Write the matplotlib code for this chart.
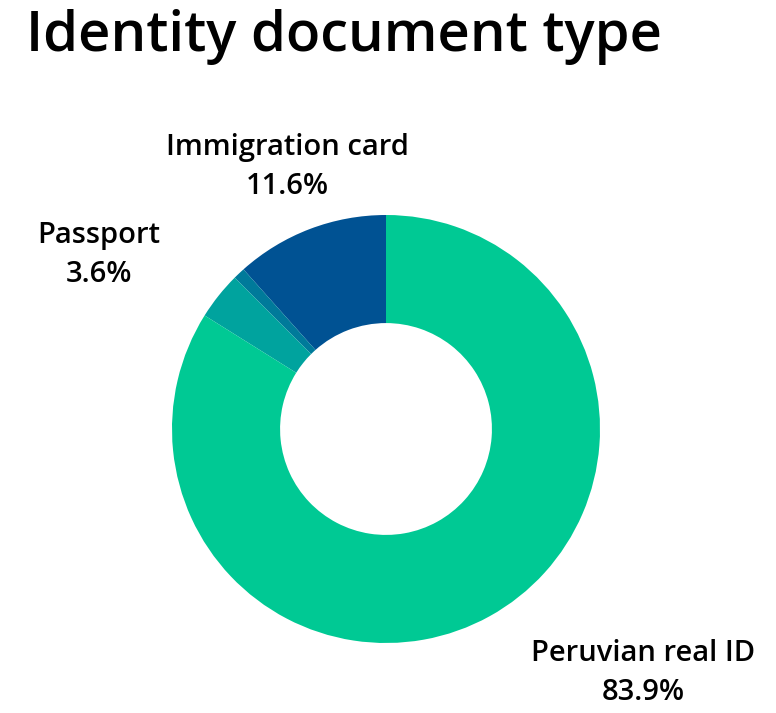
import matplotlib
matplotlib.use("Agg")
import matplotlib.pyplot as plt

# Shares of identity document types (percent), listed counter-clockwise from 12 o'clock
doc_types = ["Immigration card", "Other", "Passport", "Peruvian real ID"]
shares = [11.6, 0.9, 3.6, 83.9]
colors = ["#005293", "#007A9A", "#00A39E", "#00C994"]
show_label = [True, False, True, True]

W, H = 776, 713
fig = plt.figure(figsize=(W / 100, H / 100), dpi=100)
fig.patch.set_facecolor("white")

cx, cy, r = 386, 429, 214
ax = fig.add_axes([(cx - r) / W, (H - cy - r) / H, 2 * r / W, 2 * r / H])
ax.pie(shares, colors=colors, startangle=90, counterclock=True,
       radius=1.0, wedgeprops=dict(width=0.505, linewidth=0))
ax.set_xlim(-1, 1)
ax.set_ylim(-1, 1)
ax.axis("off")

font = "Open Sans"
fig.text(26 / W, 1 - 37 / H, "Identity document type", fontsize=40.5,
         fontweight="semibold", family=font, ha="left", va="center")

# label anchor points in figure pixels (centre of the two-line label)
label_pos = {
    "Immigration card": (287, 167),
    "Passport": (99, 255),
    "Peruvian real ID": (643, 673),
}
for name, val, show in zip(doc_types, shares, show_label):
    if not show:
        continue
    x, y = label_pos[name]
    fig.text(x / W, 1 - y / H, f"{name}\n{val:.1f}%", fontsize=21,
             fontweight="semibold", family=font, ha="center", va="center",
             linespacing=1.45)

fig.savefig("out.png", dpi=100)
